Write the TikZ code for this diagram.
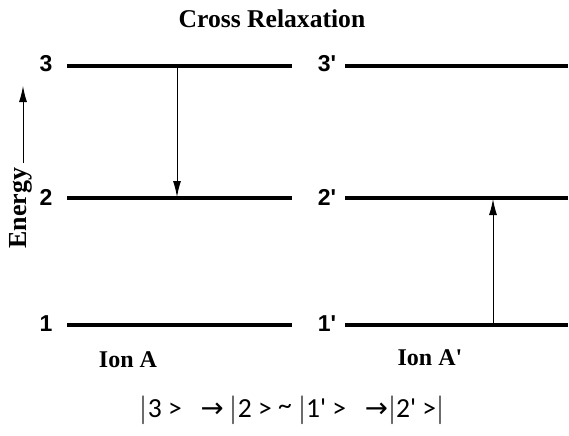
\documentclass[tikz,border=0pt]{standalone}
\usepackage{fontspec}
\setmainfont{Liberation Serif}
\newfontfamily\formfont{Carlito}
\newfontfamily\digfont{Liberation Sans}
\newfontfamily\symfont{DejaVu Sans}
\usetikzlibrary{arrows.meta}
\begin{document}
\begin{tikzpicture}[x=0.5pt,y=-0.5pt,
  level/.style={line width=1.6pt},
  trans/.style={line width=0.5pt,-{Latex[length=8pt,width=4pt]}},
  lab/.style={font=\digfont\bfseries\fontsize{11.5}{12}\selectfont,anchor=center},
  ion/.style={font=\bfseries\fontsize{12}{14}\selectfont}]
\useasboundingbox (0,0) rectangle (569,435);
\node[font=\bfseries\fontsize{12.8}{14}\selectfont] (title) at (272,19) {Cross Relaxation};
\coordinate (l3a) at (67,66); \coordinate (l3b) at (292,66);
\coordinate (l2a) at (67,198); \coordinate (l2b) at (292,198);
\coordinate (l1a) at (67,325); \coordinate (l1b) at (292,325);
\coordinate (r3a) at (345,66); \coordinate (r3b) at (568,66);
\coordinate (r2a) at (345,198); \coordinate (r2b) at (568,198);
\coordinate (r1a) at (345,325); \coordinate (r1b) at (568,325);
\draw[level] (l3a) -- (l3b);
\draw[level] (l2a) -- (l2b);
\draw[level] (l1a) -- (l1b);
\draw[level] (r3a) -- (r3b);
\draw[level] (r2a) -- (r2b);
\draw[level] (r1a) -- (r1b);
\node[lab] (n3) at (46,64) {3};
\node[lab] (n2) at (46,197) {2};
\node[lab] (n1) at (46,324) {1};
\node[lab] (m3) at (327,64) {3\textquotesingle};
\node[lab] (m2) at (327,197) {2\textquotesingle};
\node[lab] (m1) at (327,324) {1\textquotesingle};
\coordinate (da) at (177,66); \coordinate (db) at (177,197);
\draw[trans] (da) -- (db);
\coordinate (ua) at (493,325); \coordinate (ub) at (493,199);
\draw[trans] (ua) -- (ub);
\node[font=\bfseries\fontsize{13}{14}\selectfont,rotate=90] (en) at (21,208) {Energy};
\coordinate (ea) at (23,163); \coordinate (eb) at (23,86);
\draw[trans] (ea) -- (eb);
\node[ion] (ia) at (128,360) {Ion A};
\node[ion] (ib) at (430,358) {Ion A\textquotesingle};
\node[font=\formfont\fontsize{13.8}{16}\selectfont] (f) at (292,410)
 {$|$3 >\ \ \ {\symfont →} $|$2 > \raisebox{0.2ex}{\textasciitilde} $|$1\textquotesingle{} >\ \ \ {\symfont →}$|$2\textquotesingle{} >$|$};
\end{tikzpicture}
\end{document}
